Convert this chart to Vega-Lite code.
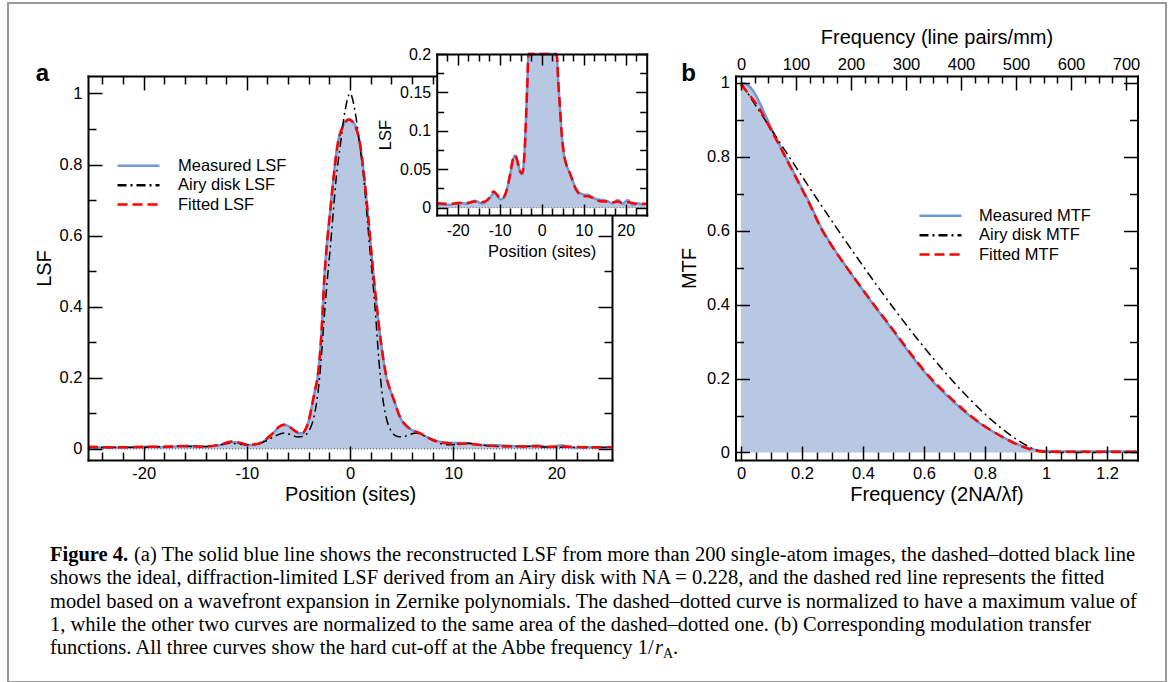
{
"$schema": "https://vega.github.io/schema/vega-lite/v6.json",
"width": 1158, "height": 679,
"autosize": "none",
"padding": {"left": 8, "top": 3, "right": 2, "bottom": 0},
"background": "white",
"config": {
  "font": "Liberation Sans",
  "view": {"stroke": "#9a9a9a", "strokeWidth": 2},
  "axis": {"domainColor": "black", "tickColor": "black", "labelColor": "black", "titleColor": "black", "labelFont": "Liberation Sans", "titleFont": "Liberation Sans", "titleFontWeight": "normal", "grid": false, "labelFontSize": 16.5, "titleFontSize": 20, "domainWidth": 2, "tickWidth": 1.5, "labelOverlap": false, "labelFlush": false, "domainCap": "square"},
  "legend": {"orient": "none", "title": null, "symbolType": "M-3,0L3,0", "symbolSize": 196, "symbolStrokeWidth": 2.5, "labelFontSize": 16.5, "labelFont": "Liberation Sans", "labelColor": "black", "labelOffset": 31, "rowPadding": 2.4, "padding": 0, "labelLimit": 400}
},
"datasets": {
  "lsf": [
    {"s":"Measured LSF","x":-25.4,"y":0.005},{"s":"Measured LSF","x":-23.5,"y":0.004},{"s":"Measured LSF","x":-21.7,"y":0.004},{"s":"Measured LSF","x":-19.7,"y":0.0065},{"s":"Measured LSF","x":-17.8,"y":0.005},{"s":"Measured LSF","x":-16,"y":0.009},{"s":"Measured LSF","x":-14.2,"y":0.0057},{"s":"Measured LSF","x":-12.6,"y":0.011},{"s":"Measured LSF","x":-11.3,"y":0.019},{"s":"Measured LSF","x":-10.5,"y":0.015},{"s":"Measured LSF","x":-9.9,"y":0.011},{"s":"Measured LSF","x":-9.2,"y":0.012},{"s":"Measured LSF","x":-8.7,"y":0.016},{"s":"Measured LSF","x":-8.1,"y":0.028},{"s":"Measured LSF","x":-7.5,"y":0.043},{"s":"Measured LSF","x":-6.9,"y":0.061},{"s":"Measured LSF","x":-6.4,"y":0.068},{"s":"Measured LSF","x":-5.9,"y":0.063},{"s":"Measured LSF","x":-5.4,"y":0.052},{"s":"Measured LSF","x":-4.9,"y":0.044},{"s":"Measured LSF","x":-4.6,"y":0.044},{"s":"Measured LSF","x":-4.3,"y":0.055},{"s":"Measured LSF","x":-4.0,"y":0.08},{"s":"Measured LSF","x":-3.7,"y":0.12},{"s":"Measured LSF","x":-3.4,"y":0.165},{"s":"Measured LSF","x":-3.15,"y":0.2},{"s":"Measured LSF","x":-2.9,"y":0.27},{"s":"Measured LSF","x":-2.7,"y":0.36},{"s":"Measured LSF","x":-2.5,"y":0.476},{"s":"Measured LSF","x":-2.26,"y":0.57},{"s":"Measured LSF","x":-1.94,"y":0.664},{"s":"Measured LSF","x":-1.62,"y":0.758},{"s":"Measured LSF","x":-1.23,"y":0.852},{"s":"Measured LSF","x":-0.75,"y":0.905},{"s":"Measured LSF","x":-0.1,"y":0.928},{"s":"Measured LSF","x":0.4,"y":0.915},{"s":"Measured LSF","x":1.0,"y":0.852},{"s":"Measured LSF","x":1.4,"y":0.758},{"s":"Measured LSF","x":1.72,"y":0.664},{"s":"Measured LSF","x":2.02,"y":0.57},{"s":"Measured LSF","x":2.32,"y":0.476},{"s":"Measured LSF","x":2.6,"y":0.4},{"s":"Measured LSF","x":3.0,"y":0.3},{"s":"Measured LSF","x":3.55,"y":0.2},{"s":"Measured LSF","x":4.0,"y":0.158},{"s":"Measured LSF","x":4.33,"y":0.132},{"s":"Measured LSF","x":4.7,"y":0.1},{"s":"Measured LSF","x":5.12,"y":0.0755},{"s":"Measured LSF","x":5.5,"y":0.063},{"s":"Measured LSF","x":5.92,"y":0.0546},{"s":"Measured LSF","x":6.7,"y":0.045},{"s":"Measured LSF","x":7.3,"y":0.036},{"s":"Measured LSF","x":7.9,"y":0.0275},{"s":"Measured LSF","x":8.6,"y":0.021},{"s":"Measured LSF","x":9.5,"y":0.018},{"s":"Measured LSF","x":10.3,"y":0.017},{"s":"Measured LSF","x":11.0,"y":0.0168},{"s":"Measured LSF","x":12.0,"y":0.014},{"s":"Measured LSF","x":13.0,"y":0.011},{"s":"Measured LSF","x":14.6,"y":0.01},{"s":"Measured LSF","x":15.8,"y":0.008},{"s":"Measured LSF","x":16.9,"y":0.0057},{"s":"Measured LSF","x":18.1,"y":0.01},{"s":"Measured LSF","x":19.3,"y":0.005},{"s":"Measured LSF","x":20.5,"y":0.01},{"s":"Measured LSF","x":21.7,"y":0.0035},{"s":"Measured LSF","x":22.9,"y":0.0057},{"s":"Measured LSF","x":24.0,"y":0.004},{"s":"Measured LSF","x":25.4,"y":0.005},
    {"s":"Fitted LSF","x":-25.4,"y":0.006},{"s":"Fitted LSF","x":-23.5,"y":0.005},{"s":"Fitted LSF","x":-21.7,"y":0.005},{"s":"Fitted LSF","x":-19.7,"y":0.006},{"s":"Fitted LSF","x":-17.8,"y":0.006},{"s":"Fitted LSF","x":-16,"y":0.008},{"s":"Fitted LSF","x":-14.2,"y":0.007},{"s":"Fitted LSF","x":-12.6,"y":0.012},{"s":"Fitted LSF","x":-11.5,"y":0.021},{"s":"Fitted LSF","x":-10.5,"y":0.016},{"s":"Fitted LSF","x":-9.9,"y":0.012},{"s":"Fitted LSF","x":-9.2,"y":0.013},{"s":"Fitted LSF","x":-8.7,"y":0.017},{"s":"Fitted LSF","x":-8.1,"y":0.028},{"s":"Fitted LSF","x":-7.5,"y":0.044},{"s":"Fitted LSF","x":-6.9,"y":0.062},{"s":"Fitted LSF","x":-6.4,"y":0.068},{"s":"Fitted LSF","x":-5.9,"y":0.063},{"s":"Fitted LSF","x":-5.4,"y":0.052},{"s":"Fitted LSF","x":-4.9,"y":0.045},{"s":"Fitted LSF","x":-4.6,"y":0.045},{"s":"Fitted LSF","x":-4.3,"y":0.056},{"s":"Fitted LSF","x":-4.0,"y":0.08},{"s":"Fitted LSF","x":-3.7,"y":0.12},{"s":"Fitted LSF","x":-3.4,"y":0.165},{"s":"Fitted LSF","x":-3.15,"y":0.2},{"s":"Fitted LSF","x":-2.9,"y":0.27},{"s":"Fitted LSF","x":-2.7,"y":0.36},{"s":"Fitted LSF","x":-2.5,"y":0.474},{"s":"Fitted LSF","x":-2.26,"y":0.568},{"s":"Fitted LSF","x":-1.94,"y":0.662},{"s":"Fitted LSF","x":-1.62,"y":0.756},{"s":"Fitted LSF","x":-1.23,"y":0.85},{"s":"Fitted LSF","x":-0.75,"y":0.903},{"s":"Fitted LSF","x":-0.1,"y":0.926},{"s":"Fitted LSF","x":0.4,"y":0.914},{"s":"Fitted LSF","x":1.0,"y":0.852},{"s":"Fitted LSF","x":1.4,"y":0.758},{"s":"Fitted LSF","x":1.72,"y":0.664},{"s":"Fitted LSF","x":2.02,"y":0.57},{"s":"Fitted LSF","x":2.32,"y":0.476},{"s":"Fitted LSF","x":2.6,"y":0.4},{"s":"Fitted LSF","x":3.0,"y":0.3},{"s":"Fitted LSF","x":3.55,"y":0.2},{"s":"Fitted LSF","x":4.0,"y":0.158},{"s":"Fitted LSF","x":4.33,"y":0.132},{"s":"Fitted LSF","x":4.7,"y":0.1},{"s":"Fitted LSF","x":5.12,"y":0.077},{"s":"Fitted LSF","x":5.5,"y":0.064},{"s":"Fitted LSF","x":5.92,"y":0.055},{"s":"Fitted LSF","x":6.7,"y":0.045},{"s":"Fitted LSF","x":7.3,"y":0.036},{"s":"Fitted LSF","x":7.9,"y":0.027},{"s":"Fitted LSF","x":8.6,"y":0.02},{"s":"Fitted LSF","x":9.5,"y":0.016},{"s":"Fitted LSF","x":10.3,"y":0.015},{"s":"Fitted LSF","x":11.0,"y":0.015},{"s":"Fitted LSF","x":12.0,"y":0.013},{"s":"Fitted LSF","x":13.0,"y":0.01},{"s":"Fitted LSF","x":14.6,"y":0.008},{"s":"Fitted LSF","x":15.8,"y":0.008},{"s":"Fitted LSF","x":16.9,"y":0.007},{"s":"Fitted LSF","x":18.1,"y":0.008},{"s":"Fitted LSF","x":19.3,"y":0.006},{"s":"Fitted LSF","x":20.5,"y":0.007},{"s":"Fitted LSF","x":21.7,"y":0.006},{"s":"Fitted LSF","x":22.9,"y":0.005},{"s":"Fitted LSF","x":24.0,"y":0.005},{"s":"Fitted LSF","x":25.4,"y":0.005},
    {"s":"Airy disk LSF","x":-25.4,"y":0.004},{"s":"Airy disk LSF","x":-24,"y":0.004},{"s":"Airy disk LSF","x":-22,"y":0.005},{"s":"Airy disk LSF","x":-20,"y":0.005},{"s":"Airy disk LSF","x":-18.5,"y":0.006},{"s":"Airy disk LSF","x":-17,"y":0.008},{"s":"Airy disk LSF","x":-15.5,"y":0.007},{"s":"Airy disk LSF","x":-14.2,"y":0.007},{"s":"Airy disk LSF","x":-12.8,"y":0.011},{"s":"Airy disk LSF","x":-11.5,"y":0.016},{"s":"Airy disk LSF","x":-10.2,"y":0.012},{"s":"Airy disk LSF","x":-9.3,"y":0.012},{"s":"Airy disk LSF","x":-8.2,"y":0.022},{"s":"Airy disk LSF","x":-7.2,"y":0.037},{"s":"Airy disk LSF","x":-6.4,"y":0.045},{"s":"Airy disk LSF","x":-5.8,"y":0.041},{"s":"Airy disk LSF","x":-5.1,"y":0.034},{"s":"Airy disk LSF","x":-4.6,"y":0.035},{"s":"Airy disk LSF","x":-4.0,"y":0.05},{"s":"Airy disk LSF","x":-3.5,"y":0.09},{"s":"Airy disk LSF","x":-3.1,"y":0.16},{"s":"Airy disk LSF","x":-2.8,"y":0.25},{"s":"Airy disk LSF","x":-2.5,"y":0.37},{"s":"Airy disk LSF","x":-2.2,"y":0.476},{"s":"Airy disk LSF","x":-1.9,"y":0.57},{"s":"Airy disk LSF","x":-1.63,"y":0.664},{"s":"Airy disk LSF","x":-1.35,"y":0.758},{"s":"Airy disk LSF","x":-0.95,"y":0.852},{"s":"Airy disk LSF","x":-0.5,"y":0.948},{"s":"Airy disk LSF","x":0,"y":1.0},{"s":"Airy disk LSF","x":0.5,"y":0.948},{"s":"Airy disk LSF","x":0.95,"y":0.852},{"s":"Airy disk LSF","x":1.35,"y":0.758},{"s":"Airy disk LSF","x":1.63,"y":0.664},{"s":"Airy disk LSF","x":1.9,"y":0.57},{"s":"Airy disk LSF","x":2.2,"y":0.476},{"s":"Airy disk LSF","x":2.5,"y":0.37},{"s":"Airy disk LSF","x":2.8,"y":0.25},{"s":"Airy disk LSF","x":3.1,"y":0.16},{"s":"Airy disk LSF","x":3.5,"y":0.09},{"s":"Airy disk LSF","x":4.0,"y":0.05},{"s":"Airy disk LSF","x":4.6,"y":0.035},{"s":"Airy disk LSF","x":5.1,"y":0.034},{"s":"Airy disk LSF","x":5.8,"y":0.041},{"s":"Airy disk LSF","x":6.4,"y":0.045},{"s":"Airy disk LSF","x":7.2,"y":0.037},{"s":"Airy disk LSF","x":8.2,"y":0.022},{"s":"Airy disk LSF","x":9.3,"y":0.012},{"s":"Airy disk LSF","x":10.2,"y":0.012},{"s":"Airy disk LSF","x":11.5,"y":0.016},{"s":"Airy disk LSF","x":12.8,"y":0.011},{"s":"Airy disk LSF","x":14.2,"y":0.007},{"s":"Airy disk LSF","x":15.5,"y":0.007},{"s":"Airy disk LSF","x":17,"y":0.008},{"s":"Airy disk LSF","x":18.5,"y":0.006},{"s":"Airy disk LSF","x":20,"y":0.005},{"s":"Airy disk LSF","x":22,"y":0.005},{"s":"Airy disk LSF","x":24,"y":0.004},{"s":"Airy disk LSF","x":25.4,"y":0.004}
  ],
  "mtf": [
    {"s":"Measured MTF","f":0,"y":1.0},{"s":"Measured MTF","f":0.02,"y":0.995},{"s":"Measured MTF","f":0.04,"y":0.978},{"s":"Measured MTF","f":0.06,"y":0.948},{"s":"Measured MTF","f":0.08,"y":0.912},{"s":"Measured MTF","f":0.1,"y":0.876},{"s":"Measured MTF","f":0.13,"y":0.826},{"s":"Measured MTF","f":0.16,"y":0.778},{"s":"Measured MTF","f":0.19,"y":0.73},{"s":"Measured MTF","f":0.22,"y":0.683},{"s":"Measured MTF","f":0.265,"y":0.605},{"s":"Measured MTF","f":0.3,"y":0.557},{"s":"Measured MTF","f":0.347,"y":0.5},{"s":"Measured MTF","f":0.39,"y":0.45},{"s":"Measured MTF","f":0.434,"y":0.4},{"s":"Measured MTF","f":0.48,"y":0.35},{"s":"Measured MTF","f":0.521,"y":0.304},{"s":"Measured MTF","f":0.57,"y":0.25},{"s":"Measured MTF","f":0.62,"y":0.2},{"s":"Measured MTF","f":0.68,"y":0.15},{"s":"Measured MTF","f":0.74,"y":0.106},{"s":"Measured MTF","f":0.79,"y":0.075},{"s":"Measured MTF","f":0.84,"y":0.05},{"s":"Measured MTF","f":0.88,"y":0.033},{"s":"Measured MTF","f":0.915,"y":0.02},{"s":"Measured MTF","f":0.96,"y":0.008},{"s":"Measured MTF","f":1.0,"y":0.004},{"s":"Measured MTF","f":1.05,"y":0.003},{"s":"Measured MTF","f":1.15,"y":0.003},{"s":"Measured MTF","f":1.3,"y":0.003},
    {"s":"Fitted MTF","f":0,"y":0.995},{"s":"Fitted MTF","f":0.03,"y":0.965},{"s":"Fitted MTF","f":0.06,"y":0.93},{"s":"Fitted MTF","f":0.1,"y":0.87},{"s":"Fitted MTF","f":0.13,"y":0.824},{"s":"Fitted MTF","f":0.16,"y":0.776},{"s":"Fitted MTF","f":0.19,"y":0.728},{"s":"Fitted MTF","f":0.22,"y":0.68},{"s":"Fitted MTF","f":0.265,"y":0.603},{"s":"Fitted MTF","f":0.3,"y":0.556},{"s":"Fitted MTF","f":0.347,"y":0.5},{"s":"Fitted MTF","f":0.39,"y":0.451},{"s":"Fitted MTF","f":0.434,"y":0.402},{"s":"Fitted MTF","f":0.48,"y":0.352},{"s":"Fitted MTF","f":0.521,"y":0.307},{"s":"Fitted MTF","f":0.57,"y":0.253},{"s":"Fitted MTF","f":0.62,"y":0.203},{"s":"Fitted MTF","f":0.68,"y":0.153},{"s":"Fitted MTF","f":0.74,"y":0.108},{"s":"Fitted MTF","f":0.79,"y":0.076},{"s":"Fitted MTF","f":0.84,"y":0.05},{"s":"Fitted MTF","f":0.88,"y":0.032},{"s":"Fitted MTF","f":0.915,"y":0.018},{"s":"Fitted MTF","f":0.96,"y":0.006},{"s":"Fitted MTF","f":1.0,"y":0.002},{"s":"Fitted MTF","f":1.05,"y":0.002},{"s":"Fitted MTF","f":1.3,"y":0.002},
    {"s":"Airy disk MTF","f":0,"y":1.0},{"s":"Airy disk MTF","f":0.05,"y":0.9364},{"s":"Airy disk MTF","f":0.1,"y":0.8729},{"s":"Airy disk MTF","f":0.15,"y":0.8097},{"s":"Airy disk MTF","f":0.2,"y":0.747},{"s":"Airy disk MTF","f":0.25,"y":0.685},{"s":"Airy disk MTF","f":0.3,"y":0.6238},{"s":"Airy disk MTF","f":0.35,"y":0.5636},{"s":"Airy disk MTF","f":0.4,"y":0.5046},{"s":"Airy disk MTF","f":0.45,"y":0.447},{"s":"Airy disk MTF","f":0.5,"y":0.391},{"s":"Airy disk MTF","f":0.55,"y":0.3368},{"s":"Airy disk MTF","f":0.6,"y":0.2848},{"s":"Airy disk MTF","f":0.65,"y":0.2351},{"s":"Airy disk MTF","f":0.7,"y":0.1881},{"s":"Airy disk MTF","f":0.75,"y":0.1443},{"s":"Airy disk MTF","f":0.8,"y":0.1041},{"s":"Airy disk MTF","f":0.85,"y":0.0681},{"s":"Airy disk MTF","f":0.9,"y":0.0374},{"s":"Airy disk MTF","f":0.95,"y":0.0133},{"s":"Airy disk MTF","f":0.98,"y":0.004},{"s":"Airy disk MTF","f":1.0,"y":0.0},{"s":"Airy disk MTF","f":1.1,"y":0.0},{"s":"Airy disk MTF","f":1.3,"y":0.0}
  ]
},
"resolve": {
  "scale": {"x": "independent", "y": "independent", "color": "independent", "strokeDash": "independent"},
  "axis": {"x": "independent", "y": "independent"},
  "legend": {"color": "independent", "strokeDash": "independent"}
},
"layer": [
  {
    "resolve": {"axis": {"x": "independent", "y": "independent"}},
    "layer": [
      {"data": {"name": "lsf"}, "transform": [{"filter": "datum.s == 'Measured LSF'"}],
       "mark": {"type": "area", "interpolate": "monotone", "color": "#b8c8e3"},
       "encoding": {
         "x": {"field": "x", "type": "quantitative", "scale": {"domain": [-25.4, 25.4], "range": [80, 604], "nice": false, "zero": false},
               "axis": {"orient": "bottom", "offset": -222, "values": [-20, -10, 0, 10, 20], "tickSize": -14, "labelPadding": 19, "labelExpr": "datum.value + ''", "title": "Position (sites)", "titlePadding": 3, "zindex": 1}},
         "y": {"field": "y", "type": "quantitative", "scale": {"domain": [-0.031, 1.049], "range": [457, 73], "nice": false, "zero": false},
               "axis": {"orient": "left", "offset": -80, "values": [0, 0.2, 0.4, 0.6, 0.8, 1], "tickSize": -14, "labelPadding": 20, "labelExpr": "datum.value + ''", "title": "LSF", "titlePadding": 5, "zindex": 1}}
       }},
      {"data": {"values": [{}]},
       "mark": {"type": "rule", "strokeDash": [1, 2], "color": "#555", "strokeWidth": 1},
       "encoding": {
         "x": {"datum": -25.4, "type": "quantitative", "scale": {"domain": [-25.4, 25.4], "range": [80, 604], "nice": false, "zero": false},
               "axis": {"orient": "bottom", "offset": -222, "values": [-24, -22, -18, -16, -14, -12, -8, -6, -4, -2, 2, 4, 6, 8, 12, 14, 16, 18, 22, 24], "tickSize": -8, "labels": false, "domain": false, "title": null, "zindex": 1}},
         "x2": {"datum": 25.4},
         "y": {"datum": 0, "type": "quantitative", "scale": {"domain": [-0.031, 1.049], "range": [457, 73], "nice": false, "zero": false},
               "axis": {"orient": "left", "offset": -80, "values": [0.1, 0.3, 0.5, 0.7, 0.9], "tickSize": -8, "labels": false, "domain": false, "title": "a", "titleAngle": 0, "titleX": -46, "titleY": 70, "titleAlign": "center", "titleBaseline": "middle", "titleFontSize": 24, "titleFontWeight": "bold", "zindex": 1}}
       }},
      {"data": {"name": "lsf"}, "transform": [{"filter": "datum.s == 'Measured LSF'"}],
       "mark": {"type": "line", "interpolate": "monotone", "strokeWidth": 2.5},
       "encoding": {
         "x": {"field": "x", "type": "quantitative", "scale": {"domain": [-25.4, 25.4], "range": [80, 604], "nice": false, "zero": false},
               "axis": {"orient": "top", "offset": -73, "values": [-20, -10, 0, 10, 20], "tickSize": -14, "labels": false, "title": null, "zindex": 0}},
         "y": {"field": "y", "type": "quantitative", "scale": {"domain": [-0.031, 1.049], "range": [457, 73], "nice": false, "zero": false},
               "axis": {"orient": "right", "offset": -554, "values": [0, 0.2, 0.4, 0.6, 0.8, 1], "tickSize": -14, "labels": false, "title": null, "zindex": 0}},
         "color": {"field": "s", "type": "nominal", "scale": {"domain": ["Measured LSF", "Airy disk LSF", "Fitted LSF"], "range": ["#7199d6", "#000000", "#ff0000"]},
                   "legend": {"legendX": 122, "legendY": 154.3}},
         "strokeDash": {"field": "s", "type": "nominal", "scale": {"domain": ["Measured LSF", "Airy disk LSF", "Fitted LSF"], "range": [[1, 0], [9, 4, 2, 4], [10, 5]]},
                   "legend": {"legendX": 122, "legendY": 154.3}}
       }},
      {"data": {"name": "lsf"}, "transform": [{"filter": "datum.s == 'Airy disk LSF'"}],
       "mark": {"type": "line", "interpolate": "monotone", "strokeWidth": 1.5},
       "encoding": {
         "x": {"field": "x", "type": "quantitative", "scale": {"domain": [-25.4, 25.4], "range": [80, 604], "nice": false, "zero": false},
               "axis": {"orient": "top", "offset": -73, "values": [-24, -22, -18, -16, -14, -12, -8, -6, -4, -2, 2, 4, 6, 8, 12, 14, 16, 18, 22, 24], "tickSize": -8, "labels": false, "domain": false, "title": null, "zindex": 0}},
         "y": {"field": "y", "type": "quantitative", "scale": {"domain": [-0.031, 1.049], "range": [457, 73], "nice": false, "zero": false},
               "axis": {"orient": "right", "offset": -554, "values": [0.1, 0.3, 0.5, 0.7, 0.9], "tickSize": -8, "labels": false, "domain": false, "title": null, "zindex": 0}},
         "color": {"field": "s", "type": "nominal", "scale": {"domain": ["Measured LSF", "Airy disk LSF", "Fitted LSF"], "range": ["#7199d6", "#000000", "#ff0000"]},
                   "legend": {"legendX": 122, "legendY": 154.3}},
         "strokeDash": {"field": "s", "type": "nominal", "scale": {"domain": ["Measured LSF", "Airy disk LSF", "Fitted LSF"], "range": [[1, 0], [9, 4, 2, 4], [10, 5]]},
                   "legend": {"legendX": 122, "legendY": 154.3}}
       }},
      {"data": {"name": "lsf"}, "transform": [{"filter": "datum.s == 'Fitted LSF'"}],
       "mark": {"type": "line", "interpolate": "monotone", "strokeWidth": 2.5},
       "encoding": {
         "x": {"field": "x", "type": "quantitative", "scale": {"domain": [-25.4, 25.4], "range": [80, 604], "nice": false, "zero": false}, "axis": null},
         "y": {"field": "y", "type": "quantitative", "scale": {"domain": [-0.031, 1.049], "range": [457, 73], "nice": false, "zero": false}, "axis": null},
         "color": {"field": "s", "type": "nominal", "scale": {"domain": ["Measured LSF", "Airy disk LSF", "Fitted LSF"], "range": ["#7199d6", "#000000", "#ff0000"]},
                   "legend": {"legendX": 122, "legendY": 154.3}},
         "strokeDash": {"field": "s", "type": "nominal", "scale": {"domain": ["Measured LSF", "Airy disk LSF", "Fitted LSF"], "range": [[1, 0], [9, 4, 2, 4], [10, 5]]},
                   "legend": {"legendX": 122, "legendY": 154.3}}
       }}
    ]
  },
  {
    "resolve": {"axis": {"x": "independent", "y": "independent"}},
    "layer": [
      {"data": {"values": [{}]},
       "mark": {"type": "rect", "color": "white"},
       "encoding": {
         "x": {"datum": -25, "type": "quantitative", "scale": {"domain": [-25, 25], "range": [428.7, 638.7], "nice": false, "zero": false, "clamp": true},
               "axis": {"orient": "bottom", "offset": -467, "values": [-20, -10, 0, 10, 20], "tickSize": -11, "labelPadding": 18, "labelExpr": "datum.value + ''", "labelFontSize": 16, "title": "Position (sites)", "titleFontSize": 16.5, "titlePadding": 5, "zindex": 1}},
         "x2": {"datum": 25},
         "y": {"datum": -0.0095, "type": "quantitative", "scale": {"domain": [-0.0095, 0.2], "range": [212, 51], "nice": false, "zero": false, "clamp": true},
               "axis": {"orient": "left", "offset": -428.7, "values": [0, 0.05, 0.1, 0.15, 0.2], "tickSize": -11, "labelPadding": 17, "labelExpr": "datum.value + ''", "labelFontSize": 16, "title": "LSF", "titleFontSize": 16.5, "titlePadding": 6, "zindex": 1}},
         "y2": {"datum": 0.2}
       }},
      {"data": {"name": "lsf"}, "transform": [{"filter": "datum.s == 'Measured LSF'"}],
       "mark": {"type": "area", "interpolate": "monotone", "color": "#b8c8e3"},
       "encoding": {
         "x": {"field": "x", "type": "quantitative", "scale": {"domain": [-25, 25], "range": [428.7, 638.7], "nice": false, "zero": false, "clamp": true},
               "axis": {"orient": "bottom", "offset": -467, "values": [-22.5, -17.5, -15, -12.5, -7.5, -5, -2.5, 2.5, 5, 7.5, 12.5, 15, 17.5, 22.5], "tickSize": -7, "labels": false, "domain": false, "title": null, "zindex": 1}},
         "y": {"field": "y", "type": "quantitative", "scale": {"domain": [-0.0095, 0.2], "range": [212, 51], "nice": false, "zero": false, "clamp": true},
               "axis": {"orient": "left", "offset": -428.7, "values": [0.025, 0.075, 0.125, 0.175], "tickSize": -7, "labels": false, "domain": false, "title": null, "zindex": 1}}
       }},
      {"data": {"values": [{}]},
       "mark": {"type": "rule", "strokeDash": [1, 2], "color": "#555", "strokeWidth": 1},
       "encoding": {
         "x": {"datum": -25, "type": "quantitative", "scale": {"domain": [-25, 25], "range": [428.7, 638.7], "nice": false, "zero": false, "clamp": true},
               "axis": {"orient": "top", "offset": -51, "values": [-20, -10, 0, 10, 20], "tickSize": -11, "labels": false, "title": null, "zindex": 1}},
         "x2": {"datum": 25},
         "y": {"datum": 0, "type": "quantitative", "scale": {"domain": [-0.0095, 0.2], "range": [212, 51], "nice": false, "zero": false, "clamp": true},
               "axis": {"orient": "right", "offset": -519.3, "values": [0, 0.05, 0.1, 0.15, 0.2], "tickSize": -11, "labels": false, "title": null, "zindex": 1}}
       }},
      {"data": {"name": "lsf"}, "transform": [{"filter": "datum.s == 'Measured LSF'"}],
       "mark": {"type": "line", "interpolate": "monotone", "strokeWidth": 2.5, "color": "#7199d6"},
       "encoding": {
         "x": {"field": "x", "type": "quantitative", "scale": {"domain": [-25, 25], "range": [428.7, 638.7], "nice": false, "zero": false, "clamp": true},
               "axis": {"orient": "top", "offset": -51, "values": [-22.5, -17.5, -15, -12.5, -7.5, -5, -2.5, 2.5, 5, 7.5, 12.5, 15, 17.5, 22.5], "tickSize": -7, "labels": false, "domain": false, "title": null, "zindex": 1}},
         "y": {"field": "y", "type": "quantitative", "scale": {"domain": [-0.0095, 0.2], "range": [212, 51], "nice": false, "zero": false, "clamp": true},
               "axis": {"orient": "right", "offset": -519.3, "values": [0.025, 0.075, 0.125, 0.175], "tickSize": -7, "labels": false, "domain": false, "title": null, "zindex": 1}}
       }},
      {"data": {"name": "lsf"}, "transform": [{"filter": "datum.s == 'Fitted LSF'"}],
       "mark": {"type": "line", "interpolate": "monotone", "strokeWidth": 2.5, "color": "#ff0000", "strokeDash": [10, 5]},
       "encoding": {
         "x": {"field": "x", "type": "quantitative", "scale": {"domain": [-25, 25], "range": [428.7, 638.7], "nice": false, "zero": false, "clamp": true}, "axis": null},
         "y": {"field": "y", "type": "quantitative", "scale": {"domain": [-0.0095, 0.2], "range": [212, 51], "nice": false, "zero": false, "clamp": true}, "axis": null}
       }}
    ]
  },
  {
    "resolve": {"axis": {"x": "independent", "y": "independent"}},
    "layer": [
      {"data": {"name": "mtf"}, "transform": [{"filter": "datum.s == 'Measured MTF'"}],
       "mark": {"type": "area", "interpolate": "monotone", "color": "#b8c8e3"},
       "encoding": {
         "x": {"field": "f", "type": "quantitative", "scale": {"domain": [-0.018, 1.3], "range": [727.5, 1129.5], "nice": false, "zero": false},
               "axis": {"orient": "bottom", "offset": -222, "values": [0, 0.2, 0.4, 0.6, 0.8, 1, 1.2], "tickSize": -14, "labelPadding": 19, "labelExpr": "datum.value + ''", "title": "Frequency (2NA/λf)", "titlePadding": 3, "zindex": 1}},
         "y": {"field": "y", "type": "quantitative", "scale": {"domain": [-0.0203, 1.0184], "range": [457, 73], "nice": false, "zero": false},
               "axis": {"orient": "left", "offset": -727.5, "values": [0, 0.2, 0.4, 0.6, 0.8, 1], "tickSize": -14, "labelPadding": 20, "labelExpr": "datum.value + ''", "title": "MTF", "titlePadding": 7, "zindex": 1}}
       }},
      {"data": {"name": "mtf"}, "transform": [{"filter": "datum.s == 'Measured MTF'"}],
       "mark": {"type": "line", "interpolate": "monotone", "strokeWidth": 2.5},
       "encoding": {
         "x": {"field": "f", "type": "quantitative", "scale": {"domain": [-0.018, 1.3], "range": [727.5, 1129.5], "nice": false, "zero": false},
               "axis": {"orient": "bottom", "offset": -222, "values": [0.05, 0.1, 0.15, 0.25, 0.3, 0.35, 0.45, 0.5, 0.55, 0.65, 0.7, 0.75, 0.85, 0.9, 0.95, 1.05, 1.1, 1.15, 1.25], "tickSize": -8, "labels": false, "domain": false, "title": null, "zindex": 1}},
         "y": {"field": "y", "type": "quantitative", "scale": {"domain": [-0.0203, 1.0184], "range": [457, 73], "nice": false, "zero": false},
               "axis": {"orient": "left", "offset": -727.5, "values": [0.1, 0.3, 0.5, 0.7, 0.9], "tickSize": -8, "labels": false, "domain": false, "title": "b", "titleAngle": 0, "titleX": -47.5, "titleY": 70, "titleAlign": "center", "titleBaseline": "middle", "titleFontSize": 24, "titleFontWeight": "bold", "zindex": 1}},
         "color": {"field": "s", "type": "nominal", "scale": {"domain": ["Measured MTF", "Airy disk MTF", "Fitted MTF"], "range": ["#7199d6", "#000000", "#ff0000"]},
                   "legend": {"legendX": 924, "legendY": 204.3, "labelOffset": 30}},
         "strokeDash": {"field": "s", "type": "nominal", "scale": {"domain": ["Measured MTF", "Airy disk MTF", "Fitted MTF"], "range": [[1, 0], [9, 4, 2, 4], [10, 5]]},
                   "legend": {"legendX": 924, "legendY": 204.3, "labelOffset": 30}}
       }},
      {"data": {"name": "mtf"}, "transform": [{"filter": "datum.s == 'Airy disk MTF'"}],
       "mark": {"type": "line", "interpolate": "monotone", "strokeWidth": 1.5},
       "encoding": {
         "x": {"field": "f", "type": "quantitative", "scale": {"domain": [-0.018, 1.3], "range": [727.5, 1129.5], "nice": false, "zero": false}, "axis": null},
         "y": {"field": "y", "type": "quantitative", "scale": {"domain": [-0.0203, 1.0184], "range": [457, 73], "nice": false, "zero": false},
               "axis": {"orient": "right", "offset": -28.5, "values": [0, 0.2, 0.4, 0.6, 0.8, 1], "tickSize": -14, "labels": false, "title": null, "zindex": 1}},
         "color": {"field": "s", "type": "nominal", "scale": {"domain": ["Measured MTF", "Airy disk MTF", "Fitted MTF"], "range": ["#7199d6", "#000000", "#ff0000"]},
                   "legend": {"legendX": 924, "legendY": 204.3, "labelOffset": 30}},
         "strokeDash": {"field": "s", "type": "nominal", "scale": {"domain": ["Measured MTF", "Airy disk MTF", "Fitted MTF"], "range": [[1, 0], [9, 4, 2, 4], [10, 5]]},
                   "legend": {"legendX": 924, "legendY": 204.3, "labelOffset": 30}}
       }},
      {"data": {"name": "mtf"}, "transform": [{"filter": "datum.s == 'Fitted MTF'"}],
       "mark": {"type": "line", "interpolate": "monotone", "strokeWidth": 2.5},
       "encoding": {
         "x": {"field": "f", "type": "quantitative", "scale": {"domain": [-0.018, 1.3], "range": [727.5, 1129.5], "nice": false, "zero": false}, "axis": null},
         "y": {"field": "y", "type": "quantitative", "scale": {"domain": [-0.0203, 1.0184], "range": [457, 73], "nice": false, "zero": false},
               "axis": {"orient": "right", "offset": -28.5, "values": [0.1, 0.3, 0.5, 0.7, 0.9], "tickSize": -8, "labels": false, "domain": false, "title": null, "zindex": 1}},
         "color": {"field": "s", "type": "nominal", "scale": {"domain": ["Measured MTF", "Airy disk MTF", "Fitted MTF"], "range": ["#7199d6", "#000000", "#ff0000"]},
                   "legend": {"legendX": 924, "legendY": 204.3, "labelOffset": 30}},
         "strokeDash": {"field": "s", "type": "nominal", "scale": {"domain": ["Measured MTF", "Airy disk MTF", "Fitted MTF"], "range": [[1, 0], [9, 4, 2, 4], [10, 5]]},
                   "legend": {"legendX": 924, "legendY": 204.3, "labelOffset": 30}}
       }}
    ]
  },
  {
    "resolve": {"axis": {"x": "independent"}},
    "layer": [
      {"data": {"values": [{}]},
       "mark": {"type": "rule", "opacity": 0},
       "encoding": {
         "x": {"datum": 0, "type": "quantitative", "scale": {"domain": [-9.98, 720.9], "range": [727.5, 1129.5], "nice": false, "zero": false},
               "axis": {"orient": "top", "offset": -73, "values": [0, 100, 200, 300, 400, 500, 600, 700], "tickSize": -14, "labelPadding": 18, "labelExpr": "datum.value + ''", "title": "Frequency (line pairs/mm)", "titlePadding": 9, "zindex": 1}}
       }},
      {"data": {"values": [{}]},
       "mark": {"type": "rule", "opacity": 0},
       "encoding": {
         "x": {"datum": 0, "type": "quantitative", "scale": {"domain": [-9.98, 720.9], "range": [727.5, 1129.5], "nice": false, "zero": false},
               "axis": {"orient": "top", "offset": -73, "values": [25, 50, 75, 125, 150, 175, 225, 250, 275, 325, 350, 375, 425, 450, 475, 525, 550, 575, 625, 650, 675], "tickSize": -7, "labels": false, "domain": false, "title": null, "zindex": 1}}
       }}
    ]
  },
  {
    "layer": [
      {"data": {"values": [{"line": 1, "text": "Figure 4."}]},
       "mark": {"type": "text", "align": "left", "baseline": "middle", "font": "Liberation Serif", "fontSize": 20.5, "fontWeight": "bold", "color": "black"},
       "encoding": {
         "x": {"datum": 0, "type": "quantitative", "scale": {"domain": [0, 1], "range": [42, 1150], "nice": false, "zero": false}, "axis": null},
         "y": {"field": "line", "type": "quantitative", "scale": {"domain": [1, 5], "range": [552, 645], "nice": false, "zero": false}, "axis": null},
         "text": {"field": "text"}
       }},
      {"data": {"values": [{"line": 1, "text": "(a) The solid blue line shows the reconstructed LSF from more than 200 single-atom images, the dashed–dotted black line"}]},
       "mark": {"type": "text", "align": "left", "baseline": "middle", "font": "Liberation Serif", "fontSize": 20.5, "color": "black", "dx": 84},
       "encoding": {
         "x": {"datum": 0, "type": "quantitative", "scale": {"domain": [0, 1], "range": [42, 1150], "nice": false, "zero": false}, "axis": null},
         "y": {"field": "line", "type": "quantitative", "scale": {"domain": [1, 5], "range": [552, 645], "nice": false, "zero": false}, "axis": null},
         "text": {"field": "text"}
       }},
      {"data": {"values": [
         {"line": 2, "text": "shows the ideal, diffraction-limited LSF derived from an Airy disk with NA = 0.228, and the dashed red line represents the fitted"},
         {"line": 3, "text": "model based on a wavefront expansion in Zernike polynomials. The dashed–dotted curve is normalized to have a maximum value of"},
         {"line": 4, "text": "1, while the other two curves are normalized to the same area of the dashed–dotted one. (b) Corresponding modulation transfer"},
         {"line": 5, "text": "functions. All three curves show the hard cut-off at the Abbe frequency 1/"}
       ]},
       "mark": {"type": "text", "align": "left", "baseline": "middle", "font": "Liberation Serif", "fontSize": 20.5, "color": "black"},
       "encoding": {
         "x": {"datum": 0, "type": "quantitative", "scale": {"domain": [0, 1], "range": [42, 1150], "nice": false, "zero": false}, "axis": null},
         "y": {"field": "line", "type": "quantitative", "scale": {"domain": [1, 5], "range": [552, 645], "nice": false, "zero": false}, "axis": null},
         "text": {"field": "text"}
       }},
      {"data": {"values": [{"line": 5, "text": "r"}]},
       "mark": {"type": "text", "align": "left", "baseline": "middle", "font": "Liberation Serif", "fontSize": 20.5, "fontStyle": "italic", "color": "black", "dx": 605},
       "encoding": {
         "x": {"datum": 0, "type": "quantitative", "scale": {"domain": [0, 1], "range": [42, 1150], "nice": false, "zero": false}, "axis": null},
         "y": {"field": "line", "type": "quantitative", "scale": {"domain": [1, 5], "range": [552, 645], "nice": false, "zero": false}, "axis": null},
         "text": {"field": "text"}
       }},
      {"data": {"values": [{"line": 5, "text": "A"}]},
       "mark": {"type": "text", "align": "left", "baseline": "middle", "font": "Liberation Serif", "fontSize": 14, "color": "black", "dx": 613, "dy": 6},
       "encoding": {
         "x": {"datum": 0, "type": "quantitative", "scale": {"domain": [0, 1], "range": [42, 1150], "nice": false, "zero": false}, "axis": null},
         "y": {"field": "line", "type": "quantitative", "scale": {"domain": [1, 5], "range": [552, 645], "nice": false, "zero": false}, "axis": null},
         "text": {"field": "text"}
       }},
      {"data": {"values": [{"line": 5, "text": "."}]},
       "mark": {"type": "text", "align": "left", "baseline": "middle", "font": "Liberation Serif", "fontSize": 20.5, "color": "black", "dx": 623},
       "encoding": {
         "x": {"datum": 0, "type": "quantitative", "scale": {"domain": [0, 1], "range": [42, 1150], "nice": false, "zero": false}, "axis": null},
         "y": {"field": "line", "type": "quantitative", "scale": {"domain": [1, 5], "range": [552, 645], "nice": false, "zero": false}, "axis": null},
         "text": {"field": "text"}
       }}
    ]
  }
]
}
